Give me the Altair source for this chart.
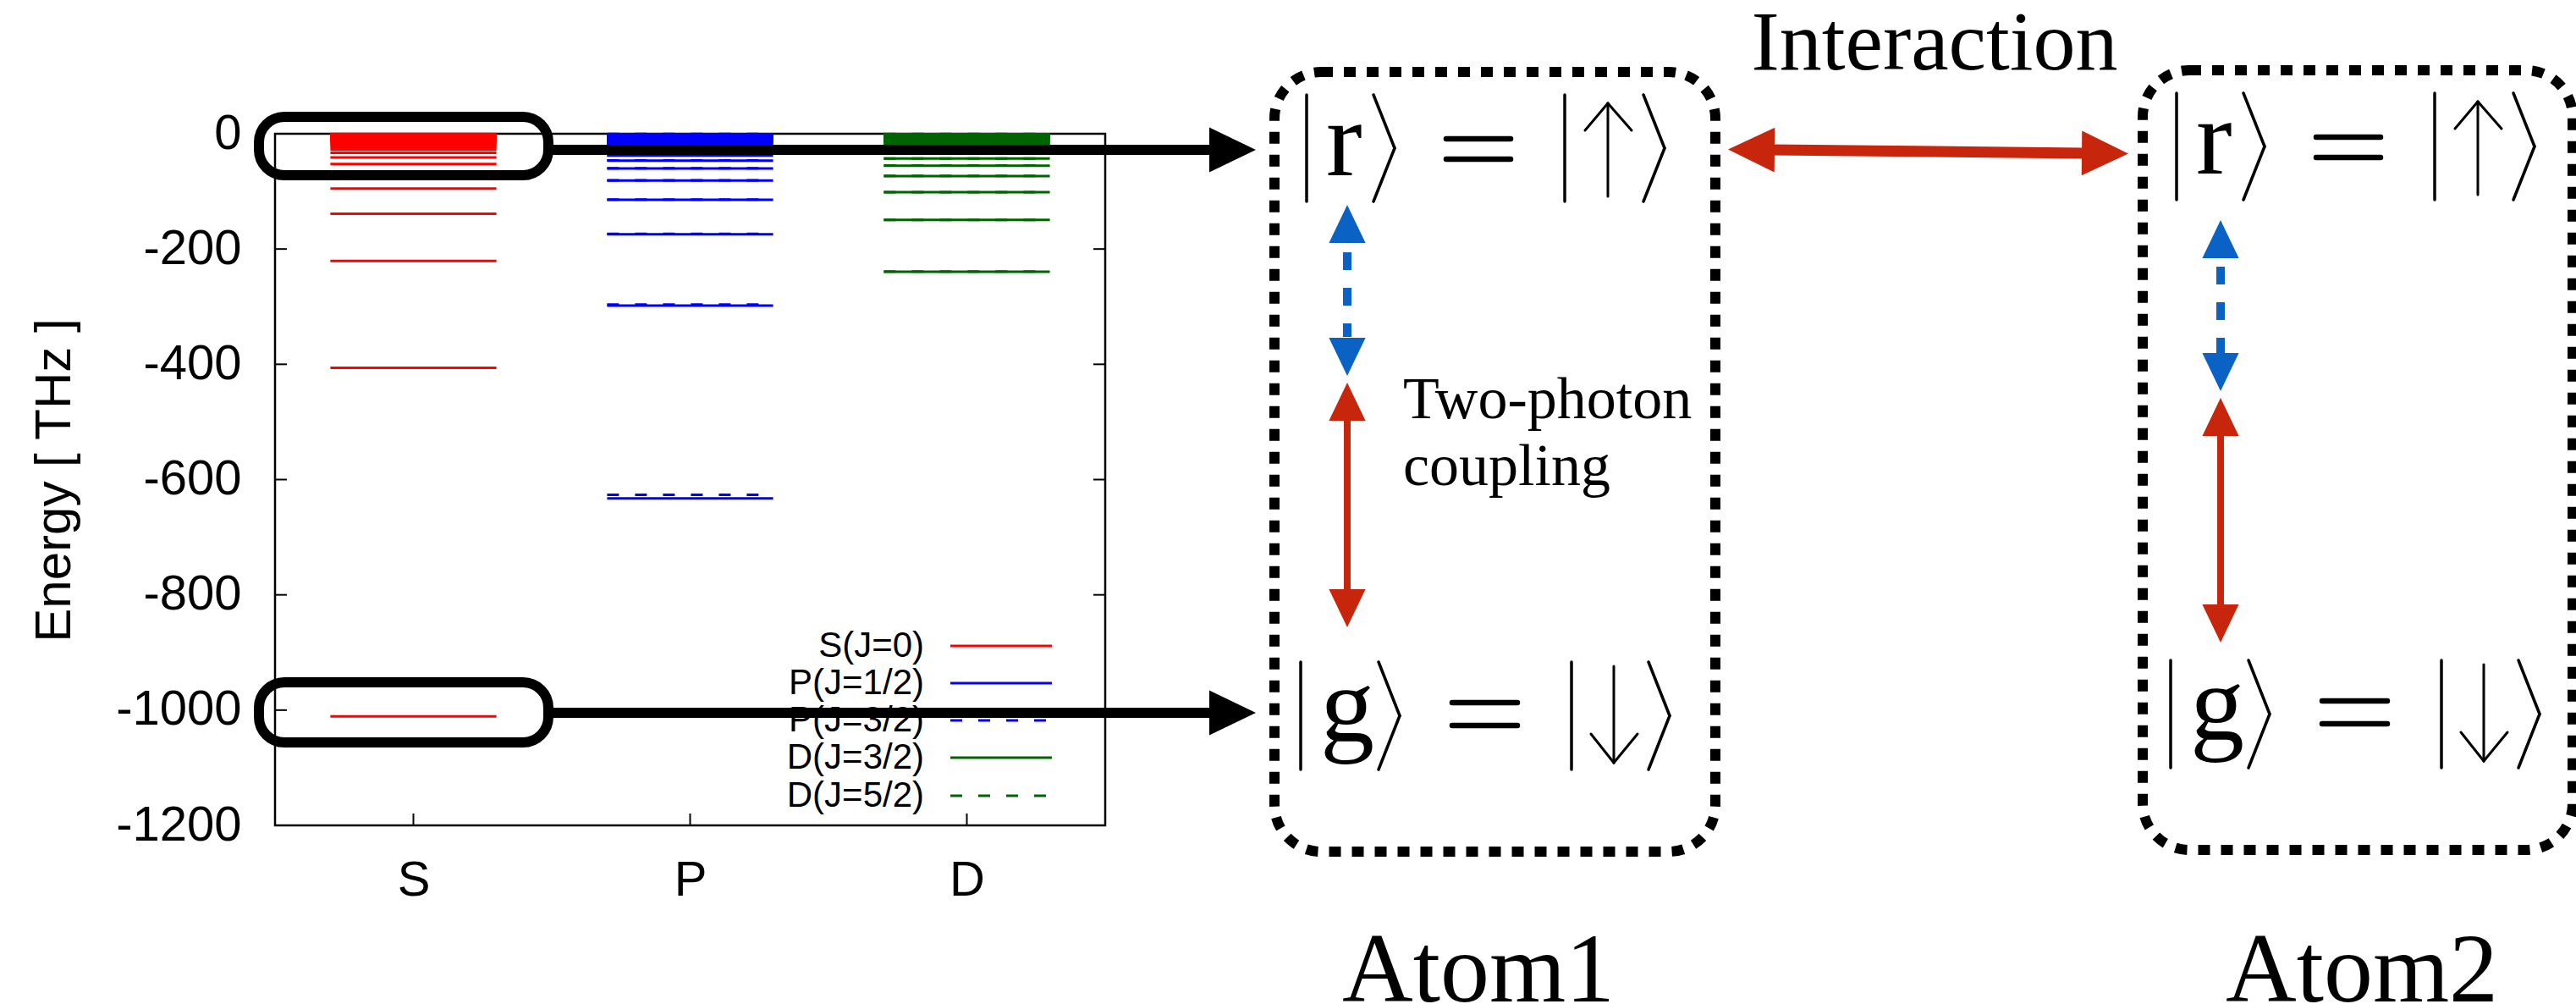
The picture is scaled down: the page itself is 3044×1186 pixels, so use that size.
import json
import altair as alt
import pandas as pd

# ---------------- chart data ----------------
CATEGORIES = ["S", "P", "D"]
Y_TICKS = [-1200, -1000, -800, -600, -400, -200, 0]
SERIES = ["S(J=0)", "P(J=1/2)", "P(J=3/2)", "D(J=3/2)", "D(J=5/2)"]
SERIES_CATEGORY = ["S", "P", "P", "D", "D"]

S_J0 = [-1011, -406, -220.6, -138.7, -95, -70, -52.5, -41, -33, -27.5, -24, -21,
        -18.5, -16.3, -14.5, -13, -11.7, -10.6, -9.6, -8.7, -7.9, -7.2, -6.5,
        -5.8, -5.2, -4.6, -4.0, -3.4, -2.8, -2.2, -1.6, -1.0, -0.4]
P_J12 = [-632.8, -298, -174.5, -114.7, -81, -60.3, -46.6, -37.8, -31, -26, -22,
         -19, -16.6, -14.6, -13, -11.6, -10.4, -9.4, -8.5, -7.7, -6.9, -6.2,
         -5.5, -4.8, -4.1, -3.4, -2.7, -2.0, -1.3, -0.6]
P_J32 = [-626.5, -296.5, -173.8, -114.2, -80.6, -60.0, -46.3, -37.5, -30.8,
         -25.8, -21.8, -18.8, -16.4, -14.4, -12.8, -11.4, -10.2, -9.2, -8.3,
         -7.5, -6.7, -6.0, -5.3, -4.6, -3.9, -3.2, -2.5, -1.8, -1.1, -0.4]
D_J32 = [-239.3, -149.6, -101.5, -73.5, -55.4, -43.1, -34.5, -28.3, -23.6, -20,
         -17.2, -15, -13.1, -11.6, -10.3, -9.2, -8.2, -7.3, -6.5, -5.7, -5.0,
         -4.3, -3.6, -2.9, -2.2, -1.5, -0.8]
D_J52 = [-239.0, -149.3, -101.2, -73.2, -55.1, -42.8, -34.2, -28.0, -23.3, -19.7,
         -16.9, -14.7, -12.8, -11.3, -10.0, -8.9, -7.9, -7.0, -6.2, -5.4, -4.7,
         -4.0, -3.3, -2.6, -1.9, -1.2, -0.5]
LEVELS = [S_J0, P_J12, P_J32, D_J32, D_J52]

Y_TITLE = "Energy [ THz ]"
INTERACTION_LABEL = "Interaction"
COUPLING_LINES = ["Two-photon", "coupling"]
ATOM_LABELS = ["Atom1", "Atom2"]
KET_LETTERS = ["r", "g"]

# ---------------- style ----------------
SANS = "Liberation Sans"
SERIF = "Liberation Serif"
SERIES_COLOR = ["#ff0000", "#0000ff", "#0000ff", "#006400", "#006400"]
SERIES_DASH = [None, None, [14, 19], None, [14, 19]]
RED = "#c8260c"
BLUE = "#0a62c4"
HEAD_PATH = "M0,0L-1,-0.48L-1,0.48Z"

# ---------------- layout (canvas pixels) ----------------
CANVAS_W, CANVAS_H = 3044, 1186
OX, OY, PW, PH = 325, 158, 981, 817
HALF_BAR = 0.3
TICK_LEN = 14
LEGEND_Y = [763, 807, 851, 895, 940]
LEGEND_TEXT_X = 1092
LEGEND_LINE_X = (1123, 1243)


def px(x):
    return x - OX


def py(y):
    return y - OY


one = pd.DataFrame({"k": [0]})

x_scale = alt.Scale(domain=[0.5, 3.5], nice=False, zero=False)
y_scale = alt.Scale(domain=[Y_TICKS[0], Y_TICKS[-1]], nice=False, zero=False)

x_axis = alt.Axis(values=[1, 2, 3], labelExpr=json.dumps(CATEGORIES) + "[datum.value - 1]",
                  ticks=False, tickSize=0, domain=False, grid=False, labelFont=SANS,
                  labelFontSize=58, labelPadding=36, labelColor="black", title="")
y_axis = alt.Axis(values=Y_TICKS, labelExpr="'' + datum.value", ticks=False, tickSize=0,
                  domain=False, grid=False, labelFont=SANS, labelFontSize=58,
                  labelPadding=40, labelColor="black", title=Y_TITLE, titleFont=SANS,
                  titleFontSize=60, titleFontWeight="normal", titleColor="black",
                  titleAngle=270, titleX=64 - OX, titleY=567 - OY, titleAlign="center",
                  titleBaseline="middle")

layers = []

# ticks (inward, gnuplot style)
yt = pd.DataFrame({"v": Y_TICKS})
for xa, xb in [(0, TICK_LEN), (PW - TICK_LEN, PW)]:
    layers.append(alt.Chart(yt).mark_rule(color="black", strokeWidth=2).encode(
        y=alt.Y("v:Q", scale=y_scale, axis=y_axis), x=alt.value(xa), x2=alt.value(xb)))
xt = pd.DataFrame({"c": [1, 2, 3]})
for ya, yb in [(PH - TICK_LEN, PH), (0, TICK_LEN)]:
    layers.append(alt.Chart(xt).mark_rule(color="black", strokeWidth=2).encode(
        x=alt.X("c:Q", scale=x_scale, axis=x_axis), y=alt.value(ya), y2=alt.value(yb)))

# energy levels
rows = []
for s, c, vals in zip(SERIES, SERIES_CATEGORY, LEVELS):
    for e in vals:
        rows.append({"series": s, "cat": CATEGORIES.index(c) + 1, "E": e})
levels_df = pd.DataFrame(rows)

for i, s in enumerate(SERIES):
    kw = dict(color=SERIES_COLOR[i], strokeWidth=3)
    if SERIES_DASH[i]:
        kw["strokeDash"] = SERIES_DASH[i]
    layers.append(
        alt.Chart(levels_df).transform_filter(alt.datum.series == s)
        .transform_calculate(xa=f"datum.cat - {HALF_BAR}", xb=f"datum.cat + {HALF_BAR}")
        .mark_rule(**kw).encode(
            x=alt.X("xa:Q", scale=x_scale, axis=x_axis), x2=alt.X2("xb"),
            y=alt.Y("E:Q", scale=y_scale, axis=y_axis)))
    # legend sample
    layers.append(alt.Chart(one).mark_rule(**kw).encode(
        x=alt.value(px(LEGEND_LINE_X[0])), x2=alt.value(px(LEGEND_LINE_X[1])),
        y=alt.value(py(LEGEND_Y[i]))))

legend_df = pd.DataFrame({"t": SERIES, "x": [px(LEGEND_TEXT_X)] * 5,
                          "y": [py(v) for v in LEGEND_Y]})
layers.append(alt.Chart(legend_df).mark_text(font=SANS, fontSize=42, align="right",
                                              baseline="middle", color="black").encode(
    x=alt.X("x:Q", scale=None, axis=None), y=alt.Y("y:Q", scale=None, axis=None),
    text="t:N"))


def rrect(x1, y1, x2, y2, **kw):
    return alt.Chart(one).mark_rect(fill="transparent", **kw).encode(
        x=alt.value(px(x1)), x2=alt.value(px(x2)), y=alt.value(py(y1)), y2=alt.value(py(y2)))


# black rounded highlight rectangles
layers.append(rrect(306, 138, 648, 207, stroke="black", strokeWidth=12, cornerRadius=30))
layers.append(rrect(306, 806, 648, 877, stroke="black", strokeWidth=12, cornerRadius=30))
# dotted atom boxes
layers.append(rrect(1506, 85, 2027, 1006, stroke="black", strokeWidth=12,
                    strokeDash=[14, 13], cornerRadius=55))
layers.append(rrect(2532, 83, 3040, 1004, stroke="black", strokeWidth=12,
                    strokeDash=[14, 13], cornerRadius=55))


def seg_df(segs):
    return pd.DataFrame([{"x": px(a), "y": py(b), "x2": px(c), "y2": py(d), "w": w, "c": col}
                         for a, b, c, d, w, col in segs])


def seg_layer(segs, cap="butt", dash=None):
    kw = dict(strokeCap=cap)
    if dash:
        kw["strokeDash"] = dash
    return alt.Chart(seg_df(segs)).mark_rule(**kw).encode(
        x=alt.X("x:Q", scale=None, axis=None), y=alt.Y("y:Q", scale=None, axis=None),
        x2=alt.X2("x2"), y2=alt.Y2("y2"),
        color=alt.Color("c:N", scale=None), strokeWidth=alt.StrokeWidth("w:Q", scale=None))


# solid arrow shafts
shafts = [
    (652, 177, 1432, 177, 12, "black"),
    (652, 842, 1432, 842, 12, "black"),
    (2095, 177, 2462, 181, 13, RED),
    (1592, 495, 1592, 698, 8, RED),
    (2624, 513, 2624, 716, 8, RED),
]
layers.append(seg_layer(shafts))
dashed = [
    (1592, 298, 1592, 398, 10, BLUE),
    (2624, 315, 2624, 417, 10, BLUE),
]
layers.append(seg_layer(dashed, dash=[21, 21]))

# arrow heads: tip x, tip y, angle, length, colour
HEADS = [
    (1484, 177, 0, 55, "black"),
    (1484, 842, 0, 55, "black"),
    (2042, 176.5, 180.6, 55, RED),
    (2515, 181.5, 0.6, 55, RED),
    (1592, 242, 270, 45, BLUE), (1592, 444, 90, 45, BLUE),
    (1592, 452, 270, 45, RED), (1592, 741, 90, 45, RED),
    (2624, 260, 270, 45, BLUE), (2624, 462, 90, 45, BLUE),
    (2624, 470, 270, 45, RED), (2624, 759, 90, 45, RED),
]
heads_df = pd.DataFrame([{"x": px(x), "y": py(y), "a": a, "s": 4 * L * L, "c": c}
                         for x, y, a, L, c in HEADS])
layers.append(alt.Chart(heads_df).mark_point(shape=HEAD_PATH, filled=True, opacity=1,
                                             strokeWidth=0).encode(
    x=alt.X("x:Q", scale=None, axis=None), y=alt.Y("y:Q", scale=None, axis=None),
    angle=alt.Angle("a:Q", scale=None), size=alt.Size("s:Q", scale=None),
    color=alt.Color("c:N", scale=None)))

# kets  |r> = |up>   and   |g> = |down>
KETS = [
    dict(top=112, bot=238, bar1=1544, ang1=1623, bar2=1849, ang2=1942, depth=25,
         eq=(1709, 1785, 164, 188), ax=1900, ay=(122, 232), up=True, lx=1567, lb=207),
    dict(top=782, bot=909, bar1=1537, ang1=1629, bar2=1857, ang2=1948, depth=25,
         eq=(1716, 1793, 830, 857), ax=1907, ay=(787, 901), up=False, lx=1560, lb=876),
]
ATOM_SHIFT = [(0, 0), (1028, -2)]

ket_segs = []
letters = []
for dx, dy in ATOM_SHIFT:
    for ki, k in enumerate(KETS):
        t, b = k["top"] + dy, k["bot"] + dy
        m = (t + b) / 2
        for bx in (k["bar1"], k["bar2"]):
            ket_segs.append((bx + dx, t, bx + dx, b, 3.5, "black"))
        for ax in (k["ang1"], k["ang2"]):
            ket_segs.append((ax + dx, t, ax + dx + k["depth"], m, 3.5, "black"))
            ket_segs.append((ax + dx + k["depth"], m, ax + dx, b, 3.5, "black"))
        e1, e2, ey1, ey2 = k["eq"]
        ket_segs.append((e1 + dx, ey1 + dy, e2 + dx, ey1 + dy, 6.5, "black"))
        ket_segs.append((e1 + dx, ey2 + dy, e2 + dx, ey2 + dy, 6.5, "black"))
        ax = k["ax"] + dx
        y0, y1 = k["ay"][0] + dy, k["ay"][1] + dy
        ket_segs.append((ax, y0, ax, y1, 3, "black"))
        if k["up"]:
            ket_segs.append((ax, y0, ax - 27, y0 + 32, 3, "black"))
            ket_segs.append((ax, y0, ax + 28, y0 + 32, 3, "black"))
        else:
            ket_segs.append((ax, y1, ax - 27, y1 - 34, 3, "black"))
            ket_segs.append((ax, y1, ax + 28, y1 - 34, 3, "black"))
        letters.append({"t": KET_LETTERS[ki], "x": px(k["lx"] + dx), "y": py(k["lb"] + dy),
                        "fs": 128})
layers.append(seg_layer(ket_segs, cap="round"))

left_text = letters + [
    {"t": COUPLING_LINES[0], "x": px(1658), "y": py(494), "fs": 70},
    {"t": COUPLING_LINES[1], "x": px(1658), "y": py(573), "fs": 70},
]
layers.append(alt.Chart(pd.DataFrame(left_text)).mark_text(
    font=SERIF, align="left", baseline="alphabetic", color="black").encode(
    x=alt.X("x:Q", scale=None, axis=None), y=alt.Y("y:Q", scale=None, axis=None),
    text="t:N", size=alt.Size("fs:Q", scale=None)))

center_text = [
    {"t": INTERACTION_LABEL, "x": px(2286), "y": py(82), "fs": 100},
    {"t": ATOM_LABELS[0], "x": px(1747), "y": py(1183), "fs": 116},
    {"t": ATOM_LABELS[1], "x": px(2791), "y": py(1183), "fs": 116},
]
layers.append(alt.Chart(pd.DataFrame(center_text)).mark_text(
    font=SERIF, align="center", baseline="alphabetic", color="black").encode(
    x=alt.X("x:Q", scale=None, axis=None), y=alt.Y("y:Q", scale=None, axis=None),
    text="t:N", size=alt.Size("fs:Q", scale=None)))

chart = alt.layer(*layers).properties(
    width=PW, height=PH,
    autosize=alt.AutoSizeParams(type="none"),
    padding={"left": OX, "top": OY, "right": CANVAS_W - OX - PW, "bottom": CANVAS_H - OY - PH},
    background="white",
).configure_view(stroke="black", strokeWidth=2.5)

chart.save("out.html", embed_options={"renderer": "svg", "actions": False})
